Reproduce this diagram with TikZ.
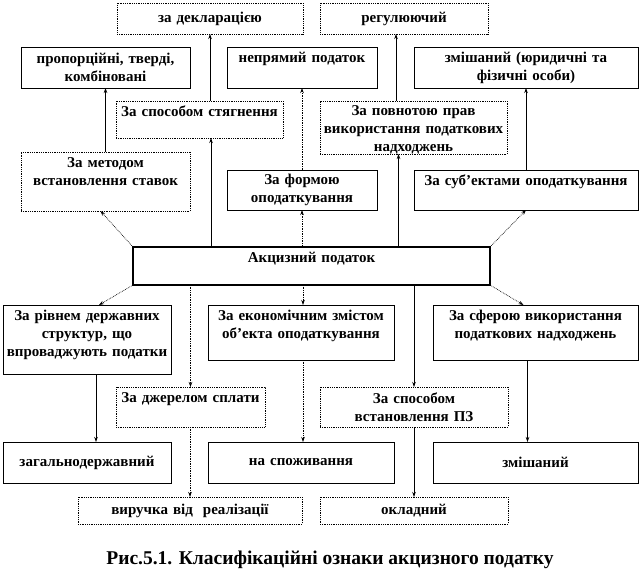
\documentclass[tikz,border=0pt]{standalone}
\usepackage{fontspec}
\setmainfont{Liberation Serif}
\usetikzlibrary{arrows.meta}

\begin{document}
\begin{tikzpicture}[x=1pt, y=-1pt,
    box/.style={draw, line width=0.8pt, rectangle, anchor=north west,
      inner sep=3pt, outer sep=0pt, align=center,
      font=\fontsize{15}{18}\selectfont\bfseries},
    dbox/.style={box, densely dotted},
    up/.style={text height=12pt, text depth=#1},
    arr/.style={line width=0.7pt, -{Stealth[length=5pt,width=3.5pt]}},
    darr/.style={arr, densely dotted}]
    \useasboundingbox (0,0) rectangle (642,581);
    % top row
    \node[dbox, text width=180, minimum height=31] (dekl) at (117,3) {за декларацією};
    \node[dbox, text width=162, minimum height=31] (regul) at (320,3) {регулюючий};
    \node[box, text width=163, minimum height=41] (prop) at (21,47) {пропорційні, тверді,\\ комбіновані};
    \node[box, text width=144, up=23pt] (nepr) at (227,47) {непрямий податок};
    \node[box, text width=218, minimum height=41] (zmishos) at (414,47) {змішаний (юридичні та\\ фізичні особи)};
    % upper criteria
    \node[dbox, text width=161, up=19pt] (spos) at (116,101) {За способом стягнення};
    \node[dbox, text width=181, text height=11pt, text depth=36pt] (povn) at (320,101) {За повнотою прав\\ використання податкових\\ надходжень};
    \node[dbox, text width=163, up=41pt] (metod) at (21,152) {За методом\\ встановлення ставок};
    \node[box, text width=144, minimum height=40] (forma) at (227,170) {За формою\\ оподаткування};
    \node[box, text width=218, up=22pt] (subj) at (414,170) {За суб’ектами оподаткування};
    % centre
    \node[box, line width=2pt, text width=351, up=20pt] (akc) at (133,247) {Акцизний податок};
    % lower criteria
    \node[box, text width=162, up=51pt] (riv) at (3,305) {За рівнем державних\\ структур, що\\ впроваджують податки};
    \node[box, text width=180, up=37pt] (ekon) at (208,305) {За економічним змістом\\ об’екта оподаткування};
    \node[box, text width=199, up=37pt] (sfera) at (433,305) {За сферою використання\\ податкових надходжень};
    \node[dbox, text width=143, up=22pt] (dzh) at (116,387) {За джерелом сплати};
    \node[dbox, text width=182, minimum height=40] (pz) at (320,387) {За способом\\ встановлення ПЗ};
    % bottom rows
    \node[box, text width=162, minimum height=41] (zag) at (3,442) {загальнодержавний};
    \node[box, text width=180, minimum height=41] (spoz) at (208,442) {на споживання};
    \node[box, text width=199, minimum height=41] (zmish) at (433,442) {змішаний};
    \node[dbox, text width=218, minimum height=27] (vyr) at (78,497) {виручка від\ \ реалізації};
    \node[dbox, text width=182, minimum height=27] (okl) at (320,497) {окладний};
    \node[font=\fontsize{19.5}{22}\selectfont\bfseries] (cap) at (330,560) {Рис.5.1. Класифікаційні ознаки акцизного податку};
    % connectors up
    \draw[arr] ([xshift=11.5pt]spos.south |- akc.north) -- ([xshift=11.5pt]spos.south);
    \draw[arr] (dekl.south |- spos.north) -- (dekl.south);
    \draw[arr] (metod.north) -- (prop.south);
    \draw[darr] (akc.north west) -- ([xshift=-5pt]metod.south);
    \draw[darr] (forma.south |- akc.north) -- (forma.south);
    \draw[darr] (nepr.south |- forma.north) -- (nepr.south);
    \draw[arr] ([xshift=-15pt]povn.south |- akc.north) -- ([xshift=-15pt]povn.south);
    \draw[arr] ([xshift=-8pt]regul.south |- povn.north) -- ([xshift=-8pt]regul.south);
    \draw[darr] (akc.north east) -- (subj.south);
    \draw[arr] (subj.north) -- (zmishos.south);
    % connectors down
    \draw[darr] (akc.south west) -- ([xshift=12pt]riv.north);
    \draw[arr] ([xshift=9pt]zag.north |- riv.south) -- ([xshift=9pt]zag.north);
    \draw[darr] (dzh.north |- akc.south) -- (dzh.north);
    \draw[darr] (vyr.north |- dzh.south) -- (vyr.north);
    \draw[darr] ([xshift=2pt]ekon.north |- akc.south) -- ([xshift=2pt]ekon.north);
    \draw[darr] ([xshift=2pt]spoz.north |- ekon.south) -- ([xshift=2pt]spoz.north);
    \draw[arr] (pz.north |- akc.south) -- (pz.north);
    \draw[arr] (okl.north |- pz.south) -- (okl.north);
    \draw[darr] (akc.south east) -- ([xshift=-12pt]sfera.north);
    \draw[arr] ([xshift=-8pt]zmish.north |- sfera.south) -- ([xshift=-8pt]zmish.north);
\end{tikzpicture}
\end{document}
